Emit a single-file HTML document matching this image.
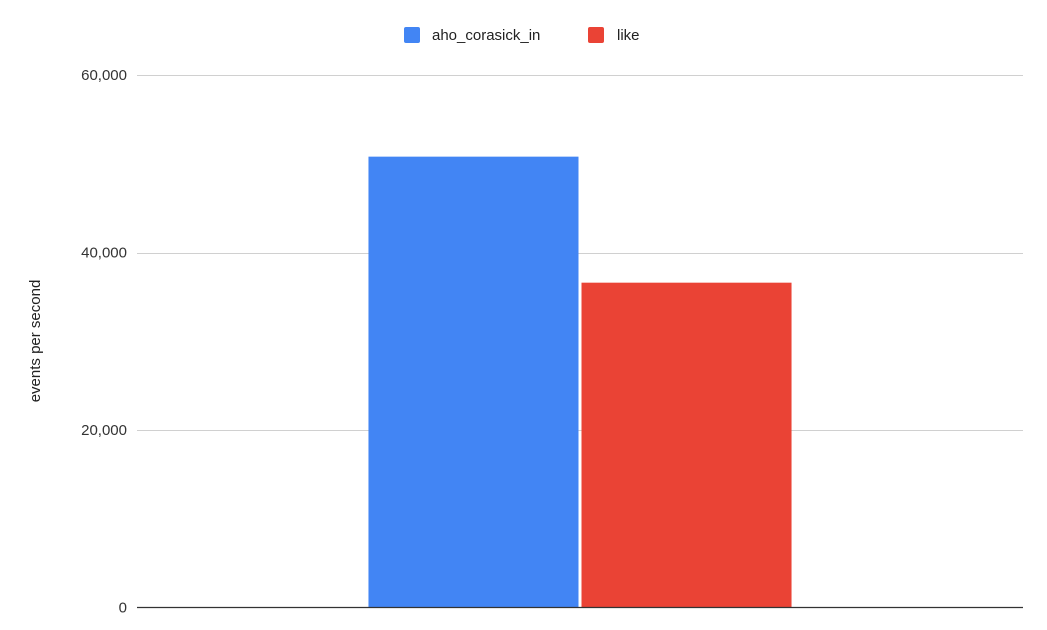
<!DOCTYPE html>
<html><head><meta charset="utf-8"><style>
html,body{margin:0;padding:0;background:#fff;}
svg{display:block;font-family:"Liberation Sans",Arial,sans-serif;}
</style></head><body>
<svg id="chart" width="1047" height="630" viewBox="0 0 1047 630">
<g id="grid"></g>
<g id="yticks"></g>
<g id="bars"></g>
<line x1="137" x2="1023" y1="607.5" y2="607.5" stroke="#333" stroke-width="1.3"/>
<text x="40" y="341" transform="rotate(-90 40 341)" text-anchor="middle" font-size="15" fill="#222">events per second</text>
<g>
<g>
<rect x="404" y="27" width="16" height="16" rx="2" fill="#4285f4"/>
<text x="432" y="40" font-size="15" fill="#222">aho_corasick_in</text>
</g>
<g>
<rect x="588" y="27" width="16" height="16" rx="2" fill="#ea4335"/>
<text x="617" y="40" font-size="15" fill="#222">like</text>
</g>
</g>
</svg>
<script>
const categories = [""];
const seriesNames = ["aho_corasick_in", "like"];
const seriesColors = ["#4285f4", "#ea4335"];
const ahoValues = [50800];
const likeValues = [36600];
const tickValues = [0, 20000, 40000, 60000];
const tickLabels = ["0", "20,000", "40,000", "60,000"];

const NS = "http://www.w3.org/2000/svg";
const plotLeft = 137, plotRight = 1023, plotTop = 75, plotBottom = 607.5, yMax = 60000;
function yScale(v){ return plotBottom - (v / yMax) * (plotBottom - plotTop); }
const band = (plotRight - plotLeft) / categories.length;
function xBand(i){ return plotLeft + i * band; }

const grid = document.getElementById('grid');
const yt = document.getElementById('yticks');
tickValues.forEach((t, i) => {
  if (t !== 0) {
    const l = document.createElementNS(NS, 'line');
    l.setAttribute('x1', plotLeft); l.setAttribute('x2', plotRight);
    l.setAttribute('y1', Math.round(yScale(t)) + 0.5); l.setAttribute('y2', Math.round(yScale(t)) + 0.5);
    l.setAttribute('stroke', '#d0d0d0'); l.setAttribute('stroke-width', '1');
    
    
    grid.appendChild(l);
  }
  const tx = document.createElementNS(NS, 'text');
  tx.setAttribute('x', 127); tx.setAttribute('y', yScale(t) + 5);
  tx.setAttribute('text-anchor', 'end'); tx.setAttribute('font-size', '15'); tx.setAttribute('fill', '#333');
  tx.textContent = tickLabels[i];
  
  
  yt.appendChild(tx);
});

const bars = document.getElementById('bars');
const series = [ahoValues, likeValues];
const groupW = band * 0.4775, gap = 3;
const barW = (groupW - gap) / series.length;
categories.forEach((c, i) => {
  const gx = xBand(i) + band / 2 - groupW / 2;
  series.forEach((vals, s) => {
    const r = document.createElementNS(NS, 'rect');
    r.setAttribute('x', gx + s * (barW + gap));
    r.setAttribute('y', yScale(vals[i]));
    r.setAttribute('width', barW);
    r.setAttribute('height', plotBottom - yScale(vals[i]));
    r.setAttribute('fill', seriesColors[s]);
    
    
    bars.appendChild(r);
  });
});
</script>
</body></html>
